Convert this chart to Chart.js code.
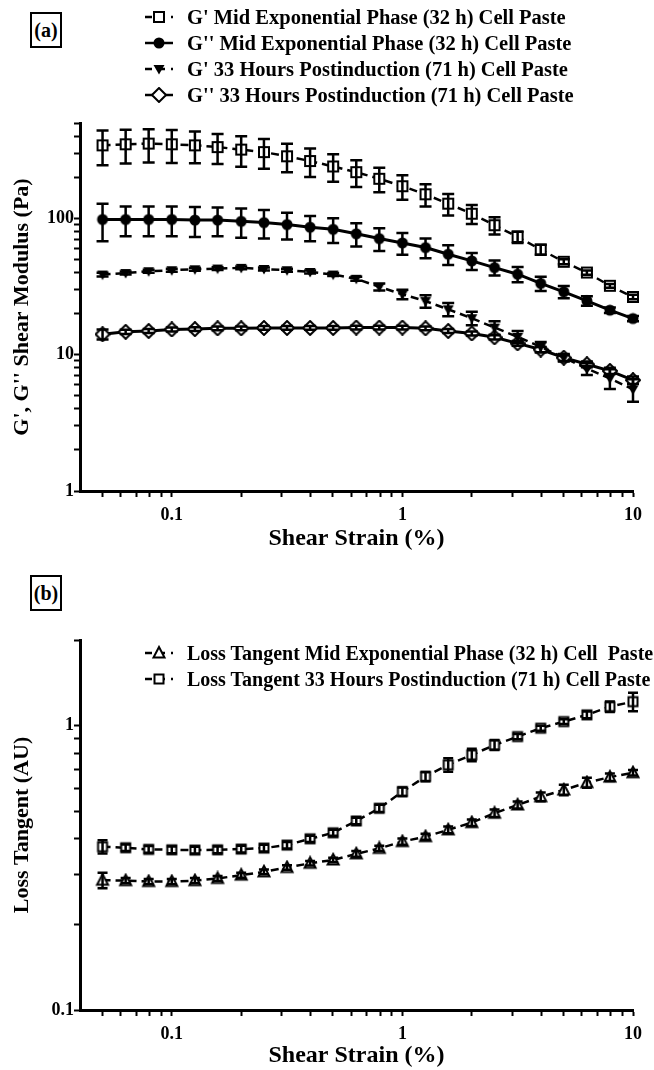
<!DOCTYPE html>
<html>
<head>
<meta charset="utf-8">
<script src="https://cdn.jsdelivr.net/npm/chart.js@4/dist/chart.umd.min.js"></script>
<style>
  body { margin: 0; width: 654px; height: 1070px; background: #fff; position: relative; overflow: hidden; }
  canvas.plot { position: absolute; left: 0; }
  .tag { position: absolute; left: 30px; width: 28px; height: 32px; border: 2px solid #000;
         font: bold 20px "Liberation Serif", serif; line-height: 32px; text-align: center; }
  .legend { position: absolute; left: 142px; font: bold 20px "Liberation Serif", serif; z-index: 2; }
  .legend.wide { font-size: 20.5px; }
  .legend .row { height: 26px; display: flex; align-items: center; white-space: pre; }
  .legend canvas { margin-right: 11px; }
</style>
</head>
<body>
<div class="tag" style="top:12px">(a)</div>
<div id="legendA" class="legend wide" style="top:4px"></div>
<canvas id="chartA" class="plot" width="654" height="553" style="top:0"></canvas>

<div class="tag" style="top:575px">(b)</div>
<div id="legendB" class="legend" style="top:640px"></div>
<canvas id="chartB" class="plot" width="654" height="517" style="top:553px"></canvas>

<script>
// strain sweep, 10 points per decade
const strain = [0.0501, 0.0631, 0.0794, 0.1, 0.126, 0.158, 0.2, 0.251, 0.316, 0.398, 0.501, 0.631,
                0.794, 1, 1.26, 1.58, 2, 2.51, 3.16, 3.98, 5.01, 6.31, 7.94, 10];

// (a) moduli, Pa (mean and SD)
const gPrimeMid = [343, 349, 353, 349, 343, 333, 319, 306, 285, 263, 240, 218,
                   195, 172, 150, 128, 108, 89, 73, 59, 48, 40, 32, 26.5];
const gPrimeMidSd = [98, 97, 96, 95, 90, 83, 80, 75, 67, 62, 55, 48,
                     40, 35, 28, 23, 17, 13, 7, 5, 2, 1.5, 1, 1];
const gDoubleMid = [98, 98, 98, 98, 97, 97, 95, 93, 90, 86, 83, 77,
                    71, 66, 61, 54.5, 48.7, 43.5, 38.9, 33.3, 28.9, 24.8, 21.2, 18.4];
const gDoubleMidSd = [30, 24, 24, 24, 24, 23, 23, 22, 20, 18, 17, 15,
                      13.5, 12, 10, 9, 7, 5.5, 5, 4, 3, 2, 1, 0.8];
const gPrimePost = [38.7, 39.7, 40.9, 41.6, 42.3, 42.8, 43.3, 42.5, 41.6, 40.4, 38.7, 36,
                    31.4, 27.7, 24.7, 21.5, 18.5, 15.8, 13.5, 11.4, 9.5, 7.9, 6.7, 5.56];
const gPrimePostSd = [1.2, 1, 1, 1, 1, 1, 1, 1, 1, 1, 1, 1.2,
                      1.8, 2.2, 2.6, 2.4, 2.1, 1.8, 1.4, 1, 0.6, 0.8, 1.1, 1.05];
const gDoublePost = [14.1, 14.7, 14.9, 15.3, 15.4, 15.6, 15.6, 15.7, 15.7, 15.7, 15.7, 15.8,
                     15.8, 15.8, 15.6, 14.9, 14.3, 13.4, 12.1, 10.9, 9.5, 8.5, 7.6, 6.5];
const gDoublePostSd = [1.2, 0.5, 0.5, 0.5, 0.5, 0.5, 0.5, 0.5, 0.5, 0.5, 0.5, 0.5,
                       0.5, 0.5, 0.5, 0.5, 0.5, 0.5, 0.5, 0.5, 0.5, 0.4, 0.4, 0.4];

// (b) loss tangent (mean and SD)
const tanMid = [0.286, 0.285, 0.283, 0.283, 0.285, 0.29, 0.298, 0.306, 0.317, 0.328, 0.337, 0.354,
                0.37, 0.391, 0.407, 0.43, 0.456, 0.492, 0.526, 0.562, 0.594, 0.63, 0.659, 0.683];
const tanMidSd = [0.018, 0.006, 0.006, 0.006, 0.006, 0.006, 0.006, 0.006, 0.006, 0.006, 0.006, 0.008,
                  0.008, 0.01, 0.01, 0.012, 0.012, 0.015, 0.015, 0.02, 0.025, 0.025, 0.02, 0.015];
const tanPost = [0.375, 0.372, 0.367, 0.366, 0.365, 0.366, 0.368, 0.371, 0.38, 0.4, 0.42, 0.462,
                 0.512, 0.586, 0.662, 0.728, 0.789, 0.855, 0.915, 0.979, 1.033, 1.091, 1.166, 1.214];
const tanPostSd = [0.02, 0.01, 0.01, 0.01, 0.01, 0.01, 0.01, 0.01, 0.01, 0.01, 0.01, 0.012,
                   0.015, 0.02, 0.025, 0.04, 0.04, 0.035, 0.02, 0.02, 0.02, 0.03, 0.05, 0.09];

// axis ticks
const xTicks = [0.05, 0.06, 0.07, 0.08, 0.09, 0.1, 0.2, 0.3, 0.4, 0.5, 0.6, 0.7, 0.8, 0.9,
                1, 2, 3, 4, 5, 6, 7, 8, 9, 10];
const xTickValues = [0.1, 1, 10];
const xTickLabels = ['0.1', '1', '10'];
const yTicksA = [1, 2, 3, 4, 5, 6, 7, 8, 9, 10, 20, 30, 40, 50, 60, 70, 80, 90, 100, 200, 300, 400, 500];
const yTickValuesA = [1, 10, 100];
const yTickLabelsA = ['1', '10', '100'];
const yTicksB = [0.1, 0.2, 0.3, 0.4, 0.5, 0.6, 0.7, 0.8, 0.9, 1, 2];
const yTickValuesB = [0.1, 1];
const yTickLabelsB = ['0.1', '1'];

const serif = '"Liberation Serif", "Times New Roman", serif';
Chart.defaults.font.family = serif;
Chart.defaults.color = '#000';

function pts(values) {
  return strain.map((x, i) => ({ x: x, y: values[i] }));
}

// marker images
function marker(kind) {
  const c = document.createElement('canvas');
  c.width = c.height = 16;
  const g = c.getContext('2d');
  const m = 8;
  g.lineWidth = 2;
  g.strokeStyle = '#000';
  g.fillStyle = '#000';
  g.lineJoin = 'miter';
  g.beginPath();
  if (kind === 'square') {
    g.rect(m - 5, m - 5, 10, 10);
    g.fillStyle = '#fff'; g.fill(); g.stroke();
  } else if (kind === 'smallSquare') {
    g.rect(m - 4.5, m - 4.5, 9, 9);
    g.fillStyle = '#fff'; g.fill(); g.stroke();
  } else if (kind === 'circle') {
    g.arc(m, m, 5.5, 0, Math.PI * 2);
    g.fill();
  } else if (kind === 'down') {
    g.moveTo(m - 5.5, m - 4); g.lineTo(m + 5.5, m - 4); g.lineTo(m, m + 5.5); g.closePath();
    g.fill();
  } else if (kind === 'up') {
    g.moveTo(m, m - 6); g.lineTo(m + 5.5, m + 4.5); g.lineTo(m - 5.5, m + 4.5); g.closePath();
    g.fillStyle = '#fff'; g.fill(); g.stroke();
  } else if (kind === 'diamond') {
    g.moveTo(m, m - 7); g.lineTo(m + 7, m); g.lineTo(m, m + 7); g.lineTo(m - 7, m); g.closePath();
    g.fillStyle = '#fff'; g.fill(); g.stroke();
  }
  return c;
}

function series(label, values, sd, kind, dashed, width) {
  return {
    label: label,
    data: pts(values),
    sd: sd,
    borderColor: '#000',
    borderWidth: width,
    borderDash: dashed ? [8, 5] : [],
    pointStyle: marker(kind),
    pointRadius: 5,
    tension: 0,
    clip: false
  };
}

// mean +/- SD bars with caps, drawn over the markers
const errorBars = {
  id: 'errorBars',
  afterDatasetsDraw(chart, args, opts) {
    const ctx = chart.ctx;
    const y = chart.scales.y;
    const half = (opts.cap || 12) / 2;
    chart.data.datasets.forEach((ds, i) => {
      const meta = chart.getDatasetMeta(i);
      ctx.save();
      ctx.strokeStyle = '#000';
      ctx.lineWidth = 2.5;
      ctx.setLineDash([]);
      meta.data.forEach((p, j) => {
        const v = ds.data[j].y;
        const s = ds.sd[j];
        const top = y.getPixelForValue(v + s);
        const bot = y.getPixelForValue(v - s);
        ctx.beginPath();
        ctx.moveTo(p.x, top); ctx.lineTo(p.x, bot);
        ctx.moveTo(p.x - half, top); ctx.lineTo(p.x + half, top);
        ctx.moveTo(p.x - half, bot); ctx.lineTo(p.x + half, bot);
        ctx.stroke();
      });
      ctx.restore();
    });
  }
};

function labelFrom(values, labels) {
  return v => {
    const k = values.indexOf(v);
    return k >= 0 ? labels[k] : '';
  };
}

function axisStyle() {
  return {
    grid: { drawOnChartArea: false, drawTicks: true, tickLength: 6, tickWidth: 2, tickColor: '#000' },
    border: { display: true, color: '#000', width: 3 }
  };
}

function xAxis(height) {
  return Object.assign(axisStyle(), {
    type: 'logarithmic',
    min: 0.04,
    max: 10,
    afterBuildTicks: s => { s.ticks = xTicks.map(v => ({ value: v })); },
    afterFit: s => { s.height = height; },
    ticks: {
      autoSkip: false, maxRotation: 0, padding: 8, color: '#000',
      font: { size: 18, weight: 'bold' },
      callback: labelFrom(xTickValues, xTickLabels)
    },
    title: {
      display: true, text: 'Shear Strain (%)', color: '#000',
      font: { size: 24, weight: 'bold' }, padding: { top: 0, bottom: 0 }
    }
  });
}

function yAxis(min, max, ticks, values, labels, title) {
  return Object.assign(axisStyle(), {
    type: 'logarithmic',
    min: min,
    max: max,
    afterBuildTicks: s => { s.ticks = ticks.map(v => ({ value: v })); },
    afterFit: s => { s.width = 80; },
    ticks: {
      autoSkip: false, padding: 0, color: '#000',
      font: { size: 18, weight: 'bold' },
      callback: labelFrom(values, labels)
    },
    title: {
      display: true, text: title, color: '#000',
      font: { size: 22, weight: 'bold' }, padding: { top: 9, bottom: 0 }
    }
  });
}

function makeChart(id, datasets, padTop, xHeight, yScale, cap) {
  return new Chart(document.getElementById(id), {
    type: 'line',
    data: { datasets: datasets },
    options: {
      responsive: false,
      animation: false,
      layout: { padding: { top: padTop, right: 21, bottom: 0, left: 0 } },
      plugins: { legend: { display: false }, tooltip: { enabled: false }, errorBars: { cap: cap } },
      scales: { x: xAxis(xHeight), y: yScale }
    },
    plugins: [errorBars]
  });
}

// legend rows built from the chart datasets
function buildLegend(chart, id) {
  const box = document.getElementById(id);
  chart.data.datasets.forEach(ds => {
    const row = document.createElement('div');
    row.className = 'row';
    const sym = document.createElement('canvas');
    sym.width = 34; sym.height = 18;
    const g = sym.getContext('2d');
    g.strokeStyle = '#000';
    g.lineWidth = 2.5;
    g.setLineDash(ds.borderDash.length ? [7, 6] : []);
    g.beginPath(); g.moveTo(3, 9); g.lineTo(31, 9); g.stroke();
    g.drawImage(ds.pointStyle, 17 - ds.pointStyle.width / 2, 9 - ds.pointStyle.height / 2);
    const txt = document.createElement('span');
    txt.textContent = ds.label;
    row.appendChild(sym);
    row.appendChild(txt);
    box.appendChild(row);
  });
}

const chartA = makeChart('chartA', [
  series("G' Mid Exponential Phase (32 h) Cell Paste", gPrimeMid, gPrimeMidSd, 'square', true, 2.5),
  series("G'' Mid Exponential Phase (32 h) Cell Paste", gDoubleMid, gDoubleMidSd, 'circle', false, 3),
  series("G' 33 Hours Postinduction (71 h) Cell Paste", gPrimePost, gPrimePostSd, 'down', true, 2.5),
  series("G'' 33 Hours Postinduction (71 h) Cell Paste", gDoublePost, gDoublePostSd, 'diamond', false, 3)
], 123, 62, yAxis(1, 500, yTicksA, yTickValuesA, yTickLabelsA, "G', G'' Shear Modulus (Pa)"), 12);

const chartB = makeChart('chartB', [
  series('Loss Tangent Mid Exponential Phase (32 h) Cell  Paste', tanMid, tanMidSd, 'up', true, 2.5),
  series('Loss Tangent 33 Hours Postinduction (71 h) Cell Paste', tanPost, tanPostSd, 'smallSquare', true, 2.5)
], 87, 60, yAxis(0.1, 2, yTicksB, yTickValuesB, yTickLabelsB, 'Loss Tangent (AU)'), 10);

buildLegend(chartA, 'legendA');
buildLegend(chartB, 'legendB');
</script>
</body>
</html>
